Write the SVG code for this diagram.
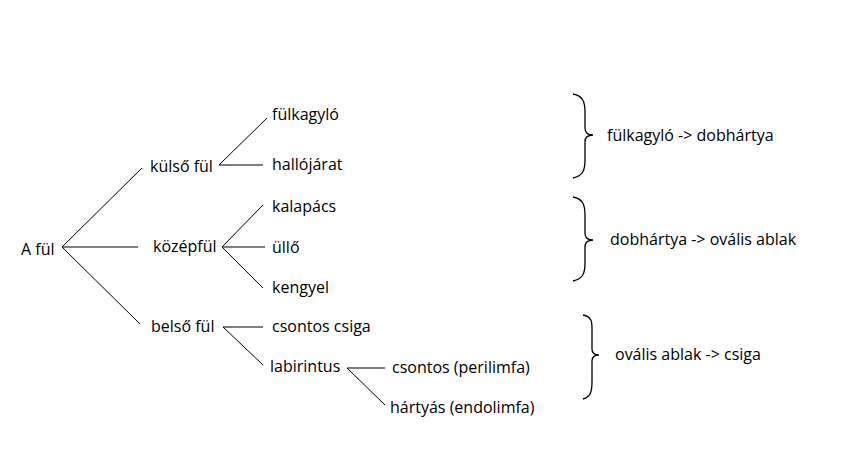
<svg xmlns="http://www.w3.org/2000/svg" width="842" height="455" viewBox="0 0 842 455">
<style>
text{font-family:"Open Sans","Noto Sans",sans-serif;font-size:16px;fill:#000}
.c{stroke:#000;stroke-width:1;fill:none}
.b{stroke:#000;stroke-width:1.3;fill:none}
</style>
<rect width="842" height="455" fill="#fff"/>
<g id="connectors">
<path class="c" d="M62,247 L142,168 M62,247 L138,247 M62,247 L140,324"/>
<path class="c" d="M219,165 L267,118 M219,165 L263,165"/>
<path class="c" d="M222,247 L263,205 M222,247 L265,247 M222,247 L263,288"/>
<path class="c" d="M223,327 L263,327 M223,327 L263,365"/>
<path class="c" d="M347,368 L385,368 M347,368 L385,405"/>
</g>
<g id="root"><text x="21" y="255">A fül</text></g>
<g id="kulso"><text x="150" y="172">külső fül</text></g>
<g id="kozep"><text x="153" y="252">középfül</text></g>
<g id="belso"><text x="151" y="332">belső fül</text></g>
<g id="fulkagylo"><text x="272" y="120">fülkagyló</text></g>
<g id="hallojarat"><text x="272" y="170">hallójárat</text></g>
<g id="kalapacs"><text x="272" y="212">kalapács</text></g>
<g id="ullo"><text x="272" y="253">üllő</text></g>
<g id="kengyel"><text x="272" y="293">kengyel</text></g>
<g id="csiga"><text x="272" y="332">csontos csiga</text></g>
<g id="labirintus"><text x="270" y="372">labirintus</text></g>
<g id="perilimfa"><text x="392" y="373">csontos (perilimfa)</text></g>
<g id="endolimfa"><text x="390" y="413">hártyás (endolimfa)</text></g>
<g id="brace1">
<path class="b" d="M573,94 C583,96 585,102 585,112 L585,128 C585,133 588,135 593,135 C588,135 585,137 585,142 L585,160 C585,170 583,176 573,178"/>
<text x="607" y="141">fülkagyló -&gt; dobhártya</text>
</g>
<g id="brace2">
<path class="b" d="M573,197 C583,199 585,205 585,215 L585,233 C585,238 588,240 593,240 C588,240 585,242 585,247 L585,263 C585,273 583,279 573,281"/>
<text x="610" y="245">dobhártya -&gt; ovális ablak</text>
</g>
<g id="brace3">
<path class="b" d="M583,315 C593,317 592,323 592,333 L592,349 C592,353 595,355 599,355 C595,355 592,357 592,361 L592,381 C592,391 591,397 583,399"/>
<text x="615" y="360">ovális ablak -&gt; csiga</text>
</g>
</svg>
